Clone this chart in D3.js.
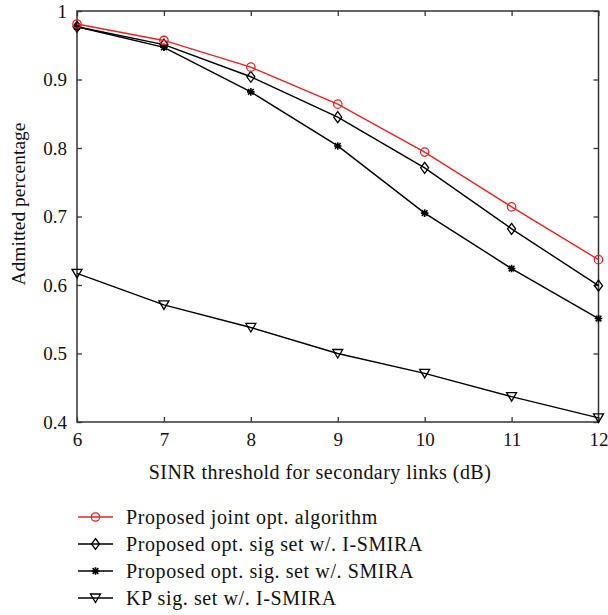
<!DOCTYPE html>
<html><head><meta charset="utf-8">
<script src="https://cdn.jsdelivr.net/npm/d3@7"></script>
<style>body{margin:0;background:#fff}svg{display:block}text{font-family:"Liberation Serif","Times New Roman",serif;fill:#111}</style>
</head><body><svg id="c" width="608" height="615"></svg>
<script>
const xValues = [6,7,8,9,10,11,12];
const jointOpt = [0.981,0.957,0.918,0.864,0.794,0.714,0.637];
const optSigISMIRA = [0.977,0.951,0.904,0.845,0.771,0.682,0.599];
const optSigSMIRA = [0.977,0.947,0.882,0.803,0.705,0.624,0.551];
const kpSigISMIRA = [0.617,0.571,0.538,0.500,0.471,0.437,0.406];
const seriesNames = ["Proposed joint opt. algorithm","Proposed opt. sig set w/. I-SMIRA","Proposed opt. sig. set w/. SMIRA","KP sig. set w/. I-SMIRA"];
const xTicks = [6,7,8,9,10,11,12];
const yTicks = [0.4,0.5,0.6,0.7,0.8,0.9,1];
const xLabel = "SINR threshold for secondary links (dB)";
const yLabel = "Admitted percentage";

const svg = d3.select("#c");
const L=77,R=598.5,T=11,B=422;
const x = d3.scaleLinear().domain([6,12]).range([L,R]);
const y = d3.scaleLinear().domain([0.4,1]).range([B,T]);
const fmt = d => d===1?"1":String(d);

const series = [
 {name:seriesNames[0], vals:jointOpt, color:"#ee2222", marker:"circle"},
 {name:seriesNames[1], vals:optSigISMIRA, color:"#000", marker:"diamond"},
 {name:seriesNames[2], vals:optSigSMIRA, color:"#000", marker:"star"},
 {name:seriesNames[3], vals:kpSigISMIRA, color:"#000", marker:"tri"}
];

const axB = d3.axisBottom(x).tickValues(xTicks).tickSizeInner(-5).tickSizeOuter(0).tickPadding(11).tickFormat(fmt);
const axL = d3.axisLeft(y).tickValues(yTicks).tickSizeInner(-5).tickSizeOuter(0).tickPadding(10).tickFormat(fmt);
const axT = d3.axisTop(x).tickValues(xTicks).tickSizeInner(-5).tickSizeOuter(0).tickFormat("");
const axR = d3.axisRight(y).tickValues(yTicks).tickSizeInner(-5).tickSizeOuter(0).tickFormat("");
function style(g){g.selectAll("path").remove();g.selectAll("line").attr("stroke","#333").attr("stroke-width",1.3);g.selectAll("text").attr("font-size",19).attr("font-family",'"Liberation Serif",serif').attr("fill","#111");}
svg.append("g").attr("transform",`translate(0,${B})`).call(axB).call(style);
svg.append("g").attr("transform",`translate(${L},0)`).call(axL).call(style);
svg.append("g").attr("transform",`translate(0,${T})`).call(axT).call(style);
svg.append("g").attr("transform",`translate(${R},0)`).call(axR).call(style);
svg.append("rect").attr("x",L).attr("y",T).attr("width",R-L).attr("height",B-T).attr("fill","none").attr("stroke","#333").attr("stroke-width",1.5);

function drawMarker(g,type,cx,cy,color){
  if(type==="circle") g.append("circle").attr("cx",cx).attr("cy",cy).attr("r",4.2).attr("fill","none").attr("stroke",color).attr("stroke-width",1.3);
  else if(type==="diamond") g.append("path").attr("d",`M${cx},${cy-5.5}L${cx+4},${cy}L${cx},${cy+5.5}L${cx-4},${cy}Z`).attr("fill","none").attr("stroke",color).attr("stroke-width",1.3);
  else if(type==="star"){
    const s=3.8;
    g.append("path").attr("d",`M${cx-s},${cy}L${cx+s},${cy}M${cx},${cy-s}L${cx},${cy+s}M${cx-s*0.75},${cy-s*0.75}L${cx+s*0.75},${cy+s*0.75}M${cx-s*0.75},${cy+s*0.75}L${cx+s*0.75},${cy-s*0.75}`).attr("stroke",color).attr("stroke-width",1.6);
  }
  else if(type==="tri") g.append("path").attr("d",`M${cx-5},${cy-4}L${cx+5},${cy-4}L${cx},${cy+4.5}Z`).attr("fill","none").attr("stroke",color).attr("stroke-width",1.3);
}

const line = d3.line().x((d,i)=>x(xValues[i])).y(d=>y(d));
[3,2,1,0].forEach(k=>{
  const s=series[k];
  const g=svg.append("g");
  g.append("path").datum(s.vals).attr("d",line).attr("fill","none").attr("stroke",s.color).attr("stroke-width",1.4);
  s.vals.forEach((v,i)=>drawMarker(g,s.marker,x(xValues[i]),y(v),s.color));
});

svg.append("text").attr("x",320).attr("y",472).attr("dy","0.35em").attr("text-anchor","middle").attr("font-size",20).attr("letter-spacing",0.45).text(xLabel);
svg.append("text").attr("transform",`translate(18,204) rotate(-90)`).attr("dy","0.35em").attr("text-anchor","middle").attr("font-size",19.5).text(yLabel);

const lg = svg.append("g");
series.forEach((s,i)=>{
  const yy = 517 + i*27;
  lg.append("line").attr("x1",78).attr("x2",113).attr("y1",yy).attr("y2",yy).attr("stroke",s.color).attr("stroke-width",1.4);
  drawMarker(lg,s.marker,95.5,yy,s.color);
  lg.append("text").attr("x",126).attr("y",yy).attr("dy","0.35em").attr("font-size",20).attr("letter-spacing",0.6).text(s.name);
});
</script></body></html>
